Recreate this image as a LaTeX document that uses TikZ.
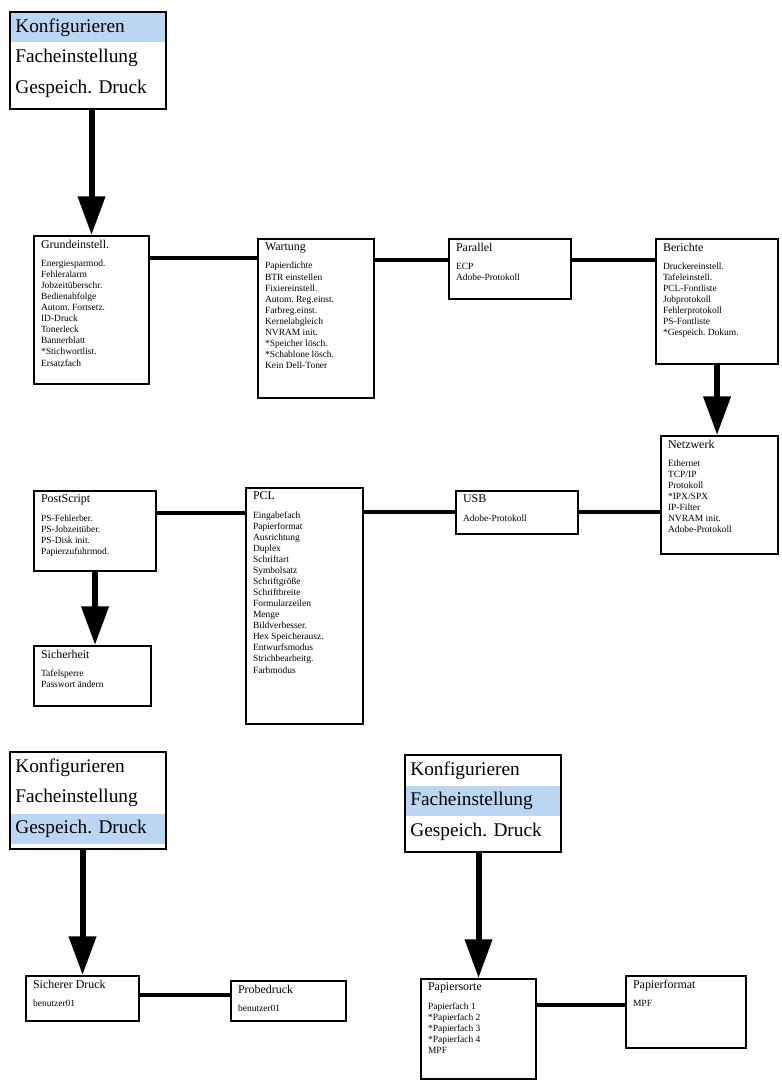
\documentclass[tikz,border=0pt]{standalone}
\usepackage{fontspec}
\setmainfont{Liberation Serif}
\usetikzlibrary{positioning,arrows.meta}

\definecolor{hlblue}{RGB}{186,214,242}

\newcommand{\boxtitle}{\fontsize{6.8}{8}\selectfont}
\newcommand{\boxitems}{\fontsize{5.4}{6.3}\selectfont}
% #1 width, #2 height, #3 title, #4 entries
\newcommand{\listbox}[4]{\parbox[t][\dimexpr#2-0.16cm\relax][t]{\dimexpr#1-0.28cm\relax}{\raggedright\boxtitle #3\par\vspace{4pt}\boxitems #4}}

\tikzset{
    listnode/.style={draw, line width=1.2pt, anchor=north west, fill=white,
        inner xsep=0.14cm, inner ysep=0.08cm},
    menubox/.style={anchor=north west, minimum width=3.1cm, minimum height=1.92cm, inner sep=0},
    menurow/.style={text width=2.9cm, inner xsep=0.1cm, inner ysep=0, minimum height=0.6cm,
        align=left, font=\fontsize{11}{13}\selectfont},
    hl/.style={fill=hlblue},
    frame/.style={line width=1.3pt},
    link/.style={line width=2.8pt},
    bigarrow/.style={line width=3.4pt, -{Triangle[length=22pt,width=15pt]}}
}

\begin{document}
\frenchspacing
\begin{tikzpicture}[x=0.02cm, y=-0.02cm]
        \useasboundingbox (0,0) rectangle (781,1081);

        % the three menu screens
        \node[menubox] (m1) at (10,12) {};
        \node[menurow, hl, below right=0cm of m1.north west] (m1a) {Konfigurieren};
        \node[menurow, below=0cm of m1a] (m1b) {Facheinstellung};
        \node[menurow, below=0cm of m1b] (m1c) {Gespeich. Druck};
        \draw[frame] (m1.north west) rectangle (m1.south east);

        \node[menubox] (m2) at (10,752) {};
        \node[menurow, below right=0cm of m2.north west] (m2a) {Konfigurieren};
        \node[menurow, below=0cm of m2a] (m2b) {Facheinstellung};
        \node[menurow, hl, below=0cm of m2b] (m2c) {Gespeich. Druck};
        \draw[frame] (m2.north west) rectangle (m2.south east);

        \node[menubox] (m3) at (405,755) {};
        \node[menurow, below right=0cm of m3.north west] (m3a) {Konfigurieren};
        \node[menurow, hl, below=0cm of m3a] (m3b) {Facheinstellung};
        \node[menurow, below=0cm of m3b] (m3c) {Gespeich. Druck};
        \draw[frame] (m3.north west) rectangle (m3.south east);

        % sub menus
        \begin{scope}[every node/.style={listnode}]
            \node (grund) at (33,235) {\listbox{2.3cm}{2.96cm}{Grundeinstell.}{Energiesparmod.\\Fehleralarm\\Jobzeitüberschr.\\Bedienabfolge\\Autom. Fortsetz.\\ID-Druck\\Tonerleck\\Bannerblatt\\{}*Stichwortlist.\\Ersatzfach}};
            \node (wart) at (257,238) {\listbox{2.32cm}{3.18cm}{Wartung}{Papierdichte\\BTR einstellen\\Fixiereinstell.\\Autom. Reg.einst.\\Farbreg.einst.\\Kernelabgleich\\NVRAM init.\\{}*Speicher lösch.\\{}*Schablone lösch.\\Kein Dell-Toner}};
            \node (par) at (448,238) {\listbox{2.44cm}{1.2cm}{Parallel}{ECP\\Adobe-Protokoll}};
            \node (ber) at (655,238) {\listbox{2.44cm}{2.5cm}{Berichte}{Druckereinstell.\\Tafeleinstell.\\PCL-Fontliste\\Jobprotokoll\\Fehlerprotokoll\\PS-Fontliste\\{}*Gespeich. Dokum.}};
            \node (netz) at (660,435) {\listbox{2.34cm}{2.36cm}{Netzwerk}{Ethernet\\TCP/IP\\Protokoll\\{}*IPX/SPX\\IP-Filter\\NVRAM init.\\Adobe-Protokoll}};
            \node (usb) at (455,490) {\listbox{2.44cm}{0.86cm}{USB}{Adobe-Protokoll}};
            \node (pcl) at (245,487) {\listbox{2.34cm}{4.72cm}{PCL}{Eingabefach\\Papierformat\\Ausrichtung\\Duplex\\Schriftart\\Symbolsatz\\Schriftgröße\\Schriftbreite\\Formularzeilen\\Menge\\Bildverbesser.\\Hex Speicherausz.\\Entwurfsmodus\\Strichbearbeitg.\\Farbmodus}};
            \node (ps) at (33,490) {\listbox{2.44cm}{1.6cm}{PostScript}{PS-Fehlerber.\\PS-Jobzeitüber.\\PS-Disk init.\\Papierzufuhrmod.}};
            \node (sich) at (33,645) {\listbox{2.34cm}{1.2cm}{Sicherheit}{Tafelsperre\\Passwort ändern}};
            \node (sdruck) at (25,975) {\listbox{2.26cm}{0.9cm}{Sicherer Druck}{benutzer01}};
            \node (probe) at (230,980) {\listbox{2.3cm}{0.8cm}{Probedruck}{benutzer01}};
            \node (psorte) at (420,978) {\listbox{2.3cm}{2.0cm}{Papiersorte}{Papierfach 1\\{}*Papierfach 2\\{}*Papierfach 3\\{}*Papierfach 4\\MPF}};
            \node (pformat) at (625,975) {\listbox{2.4cm}{1.44cm}{Papierformat}{MPF}};
        \end{scope}

        % horizontal links
        \coordinate[below=0.46cm of grund.north east] (g1);
        \coordinate[below=0.44cm of wart.north east] (w1);
        \coordinate[below=0.44cm of par.north east] (p1);
        \coordinate[below=1.54cm of netz.north west] (n1);
        \coordinate[below=0.44cm of usb.north west] (u1);
        \coordinate[below=0.52cm of pcl.north west] (c1);
        \coordinate[below=0.4cm of sdruck.north east] (s1);
        \coordinate[below=0.54cm of psorte.north east] (o1);
        \begin{scope}[every edge/.style={draw, link}]
            \path (g1) edge (g1 -| wart.west);
            \path (w1) edge (w1 -| par.west);
            \path (p1) edge (p1 -| ber.west);
            \path (n1) edge (n1 -| usb.east);
            \path (u1) edge (u1 -| pcl.east);
            \path (c1) edge (c1 -| ps.east);
            \path (s1) edge (s1 -| probe.west);
            \path (o1) edge (o1 -| pformat.west);
        \end{scope}

        % arrows down
        \draw[bigarrow] (m1.south -| grund.north) -- (grund.north);
        \draw[bigarrow] (ber.south) -- (ber.south |- netz.north);
        \draw[bigarrow] (ps.south) -- (ps.south |- sich.north);
        \draw[bigarrow] (m2.south -| sdruck.north) -- (sdruck.north);
        \draw[bigarrow] (m3.south -| psorte.north) -- (psorte.north);
    \end{tikzpicture}
\end{document}
